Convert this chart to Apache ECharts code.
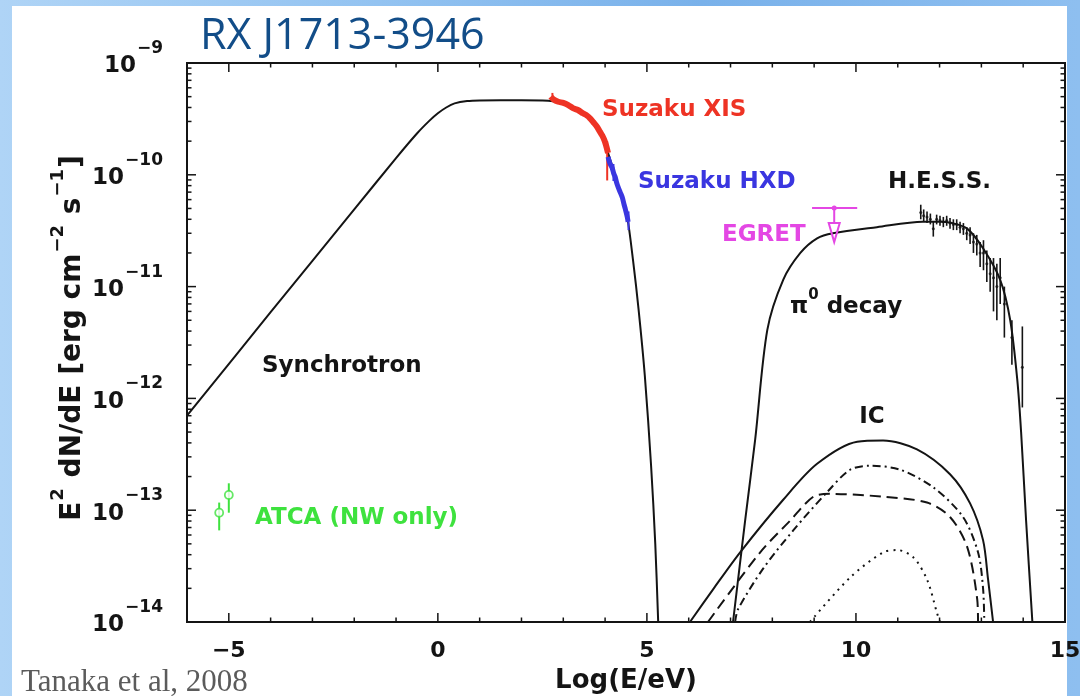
<!DOCTYPE html>
<html>
<head>
<meta charset="utf-8">
<script src="https://cdn.jsdelivr.net/npm/echarts@6/dist/echarts.min.js"></script>
<style>
  html, body { margin: 0; padding: 0; width: 1080px; height: 696px; overflow: hidden;
    background: linear-gradient(90deg, #afd4f6 0%, #93c3f1 35%, #79b1ea 65%, #8ebff0 100%); }
  #panel { position: absolute; left: 12px; top: 6px; width: 1055px; height: 690px; background: #fff; }
  #chart { position: absolute; left: 0; top: 0; width: 1080px; height: 696px; }
</style>
</head>
<body>
<div id="panel"></div>
<div id="chart"></div>
<script>
// Axis ranges and tick labels: x = log10(E/eV), y = E^2 dN/dE in erg cm^-2 s^-1
const X_MIN = -6, X_MAX = 15;
const Y_MIN = 1e-14, Y_MAX = 1e-9;
const xTickLabels = [-5, 0, 5, 10, 15];
const yDecades = [-14, -13, -12, -11, -10, -9];

// Synchrotron model
const syncX = [-6, -4, -2, -1, -0.5, -0.2, 0, 0.2, 0.4, 0.7, 1.0, 2.0, 2.5, 2.76, 3.0, 3.23, 3.47, 3.64, 3.81, 3.93, 4.02, 4.07, 4.17, 4.31, 4.41, 4.53, 4.67, 4.8, 4.95, 5.1, 5.2, 5.27];
const syncY = [7.0e-13, 5.9e-12, 4.9e-11, 1.41e-10, 2.34e-10, 3.05e-10, 3.55e-10, 4.0e-10, 4.35e-10, 4.57e-10, 4.63e-10, 4.65e-10, 4.62e-10, 4.55e-10, 4.4e-10, 3.96e-10, 3.57e-10, 3.2e-10, 2.68e-10, 2.25e-10, 1.85e-10, 1.57e-10, 1.2e-10, 7.9e-11, 6.2e-11, 4.2e-11, 1.7e-11, 6.3e-12, 1.6e-12, 2.5e-13, 5e-14, 1e-14];

// Suzaku XIS spectrum
const xisX = [2.70, 2.76, 2.88, 3.0, 3.12, 3.23, 3.35, 3.47, 3.56, 3.64, 3.72, 3.81, 3.87, 3.93, 3.98, 4.02, 4.07];
const xisY = [5.0e-10, 4.75e-10, 4.5e-10, 4.4e-10, 4.2e-10, 3.95e-10, 3.8e-10, 3.55e-10, 3.4e-10, 3.2e-10, 2.95e-10, 2.68e-10, 2.45e-10, 2.25e-10, 2.05e-10, 1.85e-10, 1.57e-10];
const xisErr = [[4.05, 1.4e-10, 8.9e-11, 2.0e-10], [2.74, 5.0e-10, 4.6e-10, 5.4e-10]];

// Suzaku HXD spectrum
const hxdX = [4.07, 4.12, 4.17, 4.21, 4.24, 4.28, 4.31, 4.36, 4.41, 4.45, 4.48, 4.53, 4.55];
const hxdY = [1.45e-10, 1.25e-10, 1.15e-10, 1.02e-10, 9.6e-11, 8.4e-11, 7.8e-11, 7.0e-11, 6.3e-11, 5.5e-11, 5.0e-11, 4.2e-11, 3.8e-11];
const hxdErr = [[4.56, 3.8e-11, 3.2e-11, 4.7e-11], [4.2, 1.05e-10, 8.8e-11, 1.25e-10]];

// pi0 decay model
const pi0X = [7.06, 7.35, 7.59, 7.88, 8.26, 8.67, 9.07, 9.45, 10.5, 11.6, 12.0, 12.3, 12.66, 13.04, 13.45, 13.69, 13.86, 13.95, 14.07, 14.22];
const pi0Y = [1e-14, 8.1e-14, 4.3e-13, 4.1e-12, 1.15e-11, 2.0e-11, 2.7e-11, 3.0e-11, 3.4e-11, 3.8e-11, 3.8e-11, 3.7e-11, 3.3e-11, 2.2e-11, 1.15e-11, 5.0e-12, 1.45e-12, 5.0e-13, 8e-14, 1e-14];

// Inverse Compton: total (solid) and components (dashed, dash-dot, dotted)
const icX = [6.03, 6.6, 7.23, 8.26, 9.07, 10.03, 10.65, 11.46, 12.25, 12.73, 13.04, 13.16, 13.28];
const icY = [1e-14, 2.0e-14, 4.2e-14, 1.24e-13, 2.6e-13, 4.1e-13, 4.2e-13, 3.5e-13, 2.1e-13, 1.15e-13, 5.4e-14, 2.4e-14, 1e-14];
const icDashX = [6.46, 7.71, 8.43, 8.98, 9.38, 10.65, 11.70, 12.25, 12.66, 12.90, 12.92];
const icDashY = [1e-14, 4.2e-14, 8.1e-14, 1.32e-13, 1.4e-13, 1.32e-13, 1.17e-13, 8.7e-14, 4.7e-14, 1.6e-14, 1e-14];
const icDashDotX = [7.11, 7.18, 7.78, 8.50, 9.31, 9.86, 10.34, 11.06, 11.85, 12.56, 12.92, 13.04, 13.07];
const icDashDotY = [1e-14, 1.3e-14, 3.0e-14, 6.6e-14, 1.45e-13, 2.3e-13, 2.5e-13, 2.3e-13, 1.6e-13, 8.7e-14, 4.2e-14, 2.0e-14, 1e-14];
const icDotX = [8.90, 9.86, 10.65, 10.99, 11.37, 11.70, 11.94, 12.01];
const icDotY = [1e-14, 2.5e-14, 4.2e-14, 4.4e-14, 3.8e-14, 2.4e-14, 1.2e-14, 1e-14];

// H.E.S.S. points: [x, y, yLow, yHigh]
const hessPts = [
  [11.55, 4.6e-11, 4.0e-11, 5.4e-11], [11.62, 4.3e-11, 3.8e-11, 4.9e-11],
  [11.70, 4.2e-11, 3.7e-11, 4.7e-11], [11.78, 4.0e-11, 3.6e-11, 4.5e-11],
  [11.85, 3.3e-11, 2.8e-11, 3.8e-11], [11.93, 4.0e-11, 3.6e-11, 4.4e-11],
  [12.01, 3.9e-11, 3.5e-11, 4.3e-11], [12.09, 3.8e-11, 3.4e-11, 4.2e-11],
  [12.17, 3.9e-11, 3.5e-11, 4.3e-11], [12.25, 3.7e-11, 3.3e-11, 4.1e-11],
  [12.33, 3.6e-11, 3.2e-11, 4.0e-11], [12.41, 3.6e-11, 3.2e-11, 4.0e-11],
  [12.49, 3.4e-11, 3.0e-11, 3.8e-11], [12.57, 3.3e-11, 2.9e-11, 3.7e-11],
  [12.65, 3.0e-11, 2.6e-11, 3.4e-11], [12.73, 2.9e-11, 2.4e-11, 3.4e-11],
  [12.81, 2.5e-11, 2.0e-11, 3.0e-11], [12.89, 2.4e-11, 1.9e-11, 2.9e-11],
  [12.97, 2.0e-11, 1.5e-11, 2.5e-11], [13.05, 2.0e-11, 1.4e-11, 2.6e-11],
  [13.13, 1.6e-11, 1.1e-11, 2.1e-11], [13.21, 1.3e-11, 0.9e-11, 1.8e-11],
  [13.29, 1.2e-11, 0.6e-11, 1.8e-11], [13.37, 1.0e-11, 0.5e-11, 1.6e-11],
  [13.45, 1.2e-11, 0.7e-11, 1.8e-11], [13.55, 7e-12, 3.5e-12, 1.0e-11],
  [13.73, 3.5e-12, 2.0e-12, 5.0e-12], [13.98, 1.9e-12, 8.3e-13, 4.4e-12]
];

// EGRET upper limit: [x, y, xLow, xHigh, arrowTip]
const egretPts = [[9.48, 5.05e-11, 8.95, 10.03, 2.5e-11]];

// ATCA radio points: [x, y, yLow, yHigh]
const atcaPts = [[-5.23, 9.5e-14, 6.6e-14, 1.17e-13], [-5.0, 1.37e-13, 9.5e-14, 1.74e-13]];

const FONT = '"DejaVu Sans", sans-serif';
const RED = '#ee3324', BLUE = '#3a36e0', MAG = '#e447e4', GREEN = '#3ee23e', INK = '#141414';

const zip = (xs, ys) => xs.map((x, i) => [x, ys[i]]);

function lineSeries(name, xs, ys, color, width, type, z) {
  return {
    name, type: 'line', data: zip(xs, ys), showSymbol: false, symbol: 'none',
    smooth: 0.3, clip: true, silent: true, z: z || 2,
    lineStyle: { color, width, type: type || 'solid' }
  };
}

function errBars(color, width) {
  return function (params, api) {
    const hi = api.coord([api.value(0), api.value(3)]);
    const lo = api.coord([api.value(0), api.value(2)]);
    return { type: 'line', shape: { x1: hi[0], y1: hi[1], x2: lo[0], y2: lo[1] },
      style: { stroke: color, lineWidth: width } };
  };
}

function egretMark(params, api) {
  const c = api.coord([api.value(0), api.value(1)]);
  const L = api.coord([api.value(2), api.value(1)]);
  const R = api.coord([api.value(3), api.value(1)]);
  const tip = api.coord([api.value(0), api.value(4)]);
  const h = 19, w = 5.5;
  const st = { stroke: MAG, lineWidth: 2, fill: null };
  return { type: 'group', children: [
    { type: 'line', shape: { x1: L[0], y1: L[1], x2: R[0], y2: R[1] }, style: st },
    { type: 'line', shape: { x1: c[0], y1: c[1], x2: c[0], y2: tip[1] - h }, style: st },
    { type: 'polygon', shape: { points: [[c[0] - w, tip[1] - h], [c[0] + w, tip[1] - h], [c[0], tip[1]]] },
      style: { stroke: MAG, lineWidth: 2, fill: 'rgba(0,0,0,0)' } },
    { type: 'circle', shape: { cx: c[0], cy: c[1], r: 2.5 }, style: { fill: MAG } }
  ] };
}

// inward ticks on all four sides of the frame
function frameTicks(params, api) {
  const kids = [];
  const seg = (a, b) => kids.push({ type: 'line', shape: { x1: a[0], y1: a[1], x2: b[0], y2: b[1] },
    style: { stroke: INK, lineWidth: 1.5 } });
  for (let v = X_MIN + 1; v < X_MAX; v++) {
    const len = v % 5 === 0 ? 9 : 4.5;
    const b = api.coord([v, Y_MIN]), t = api.coord([v, Y_MAX]);
    seg(b, [b[0], b[1] - len]);
    seg(t, [t[0], t[1] + len]);
  }
  yDecades.forEach(e => {
    for (let m = 1; m <= 9; m++) {
      const v = m * Math.pow(10, e);
      if (v <= Y_MIN * 1.0001 || v >= Y_MAX * 0.9999) continue;
      const len = m === 1 ? 9 : 4.5;
      const l = api.coord([X_MIN, v]), r = api.coord([X_MAX, v]);
      seg(l, [l[0] + len, l[1]]);
      seg(r, [r[0] - len, r[1]]);
    }
  });
  return { type: 'group', children: kids };
}

const labelFont = { fontFamily: FONT, fontWeight: 'bold', color: INK };

const option = {
  animation: false,
  grid: { left: 187, right: 15, top: 63, bottom: 74, show: true, borderColor: INK, borderWidth: 2,
    backgroundColor: 'rgba(0,0,0,0)', containLabel: false, outerBoundsMode: 'none' },
  xAxis: {
    type: 'value', min: X_MIN, max: X_MAX, interval: 1,
    axisLine: { show: false }, axisTick: { show: false }, splitLine: { show: false },
    axisLabel: { interval: 0, margin: 18, fontSize: 22, ...labelFont,
      formatter: v => xTickLabels.includes(v) ? String(v).replace('-', '\u2212') : '' },
    name: 'Log(E/eV)', nameLocation: 'middle', nameGap: 46,
    nameTextStyle: { fontSize: 26, ...labelFont }
  },
  yAxis: {
    type: 'log', logBase: 10, min: Y_MIN, max: Y_MAX, splitNumber: 5,
    axisLine: { show: false }, axisTick: { show: false }, splitLine: { show: false },
    axisLabel: {
      margin: 24, padding: [0, 0, 8, 0],
      formatter: v => '{b|10}{s|\u2212' + (-Math.round(Math.log10(v))) + '}',
      rich: {
        b: { fontSize: 23, ...labelFont, padding: [15, 0, 0, 0], verticalAlign: 'bottom' },
        s: { fontSize: 17, ...labelFont, verticalAlign: 'top', padding: [0, 0, 0, 1] }
      }
    }
  },
  graphic: [
    { type: 'text', x: 200, y: 37, silent: true,
      style: { text: 'RX J1713-3946', font: '43px "Open Sans", sans-serif', fill: '#124d88', verticalAlign: 'middle' } },
    { type: 'text', x: 21, y: 683, silent: true,
      style: { text: 'Tanaka et al, 2008', font: '31px "Liberation Serif", serif', fill: '#5b5b5b', verticalAlign: 'middle' } },
    { type: 'text', x: 68, y: 338, rotation: Math.PI / 2, silent: true,
      style: { text: '{a|E}{s|2}{a| dN/dE [erg cm}{s|\u22122}{a| s}{s|\u22121}{a|]}',
        align: 'center', verticalAlign: 'middle',
        rich: {
          a: { fontSize: 28, fontFamily: FONT, fontWeight: 'bold', fill: INK, verticalAlign: 'bottom', padding: [9, 0, 0, 0] },
          s: { fontSize: 18, fontFamily: FONT, fontWeight: 'bold', fill: INK, verticalAlign: 'top', padding: [0, 1, 0, 1] }
        } } },
    { type: 'text', x: 602, y: 110, silent: true,
      style: { text: 'Suzaku XIS', font: 'bold 23px ' + FONT, fill: RED, verticalAlign: 'middle' } },
    { type: 'text', x: 638, y: 182, silent: true,
      style: { text: 'Suzaku HXD', font: 'bold 23px ' + FONT, fill: BLUE, verticalAlign: 'middle' } },
    { type: 'text', x: 722, y: 235, silent: true,
      style: { text: 'EGRET', font: 'bold 23px ' + FONT, fill: MAG, verticalAlign: 'middle' } },
    { type: 'text', x: 888, y: 182, silent: true,
      style: { text: 'H.E.S.S.', font: 'bold 23px ' + FONT, fill: INK, verticalAlign: 'middle' } },
    { type: 'text', x: 790, y: 303, silent: true,
      style: { text: '{p|\u03c0}{s|0}{t| decay}', verticalAlign: 'middle',
        rich: {
          p: { fontSize: 23, fontFamily: FONT, fontWeight: 'bold', fill: INK, verticalAlign: 'bottom', padding: [8, 0, 0, 0] },
          s: { fontSize: 15, fontFamily: FONT, fontWeight: 'bold', fill: INK, verticalAlign: 'top' },
          t: { fontSize: 23, fontFamily: FONT, fontWeight: 'bold', fill: INK, verticalAlign: 'bottom', padding: [8, 0, 0, 0] }
        } } },
    { type: 'text', x: 872, y: 417, silent: true,
      style: { text: 'IC', font: 'bold 23px ' + FONT, fill: INK, align: 'center', verticalAlign: 'middle' } },
    { type: 'text', x: 262, y: 366, silent: true,
      style: { text: 'Synchrotron', font: 'bold 23px ' + FONT, fill: INK, verticalAlign: 'middle' } },
    { type: 'text', x: 255, y: 518, silent: true,
      style: { text: 'ATCA (NW only)', font: 'bold 23px ' + FONT, fill: GREEN, verticalAlign: 'middle' } }
  ],
  series: [
    lineSeries('Synchrotron', syncX, syncY, INK, 2),
    lineSeries('pi0 decay', pi0X, pi0Y, INK, 2),
    lineSeries('IC total', icX, icY, INK, 2),
    lineSeries('IC dashed', icDashX, icDashY, INK, 2, [11, 6]),
    lineSeries('IC dash-dot', icDashDotX, icDashDotY, INK, 2, [8, 4, 2, 4]),
    lineSeries('IC dotted', icDotX, icDotY, INK, 2, [2, 5]),
    lineSeries('Suzaku XIS', xisX, xisY, RED, 6, 'solid', 5),
    lineSeries('Suzaku HXD', hxdX, hxdY, BLUE, 5, 'solid', 5),
    { name: 'XIS err', type: 'custom', data: xisErr, encode: { x: 0, y: 1 }, renderItem: errBars(RED, 2), z: 5, silent: true },
    { name: 'HXD err', type: 'custom', data: hxdErr, encode: { x: 0, y: 1 }, renderItem: errBars(BLUE, 2), z: 5, silent: true },
    { name: 'H.E.S.S.', type: 'custom', data: hessPts, encode: { x: 0, y: 1 }, renderItem: errBars(INK, 1.6), z: 6, silent: true },
    { name: 'H.E.S.S. pts', type: 'scatter', data: hessPts.map(p => [p[0], p[1]]), symbolSize: 3,
      itemStyle: { color: INK }, z: 6, silent: true },
    { name: 'EGRET', type: 'custom', data: egretPts, encode: { x: 0, y: 1 }, renderItem: egretMark, z: 6, silent: true },
    { name: 'ATCA err', type: 'custom', data: atcaPts, encode: { x: 0, y: 1 }, renderItem: errBars(GREEN, 2), z: 6, silent: true },
    { name: 'ATCA', type: 'scatter', data: atcaPts.map(p => [p[0], p[1]]), symbol: 'circle', symbolSize: 8,
      itemStyle: { color: '#fff', borderColor: GREEN, borderWidth: 1.8 }, z: 7, silent: true },
    { name: 'frame ticks', type: 'custom', data: [[0, 1e-12]], encode: { x: 0, y: 1 }, renderItem: frameTicks,
      clip: false, z: 10, silent: true }
  ]
};

const chart = echarts.init(document.getElementById('chart'), null, { renderer: 'canvas' });
chart.setOption(option);
</script>
</body>
</html>
